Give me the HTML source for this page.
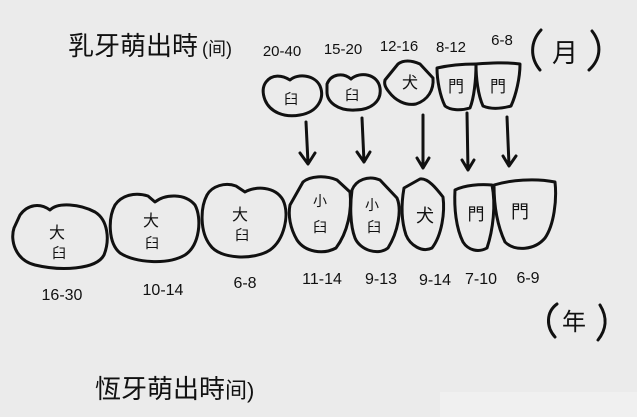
<!DOCTYPE html>
<html><head><meta charset="utf-8"><style>
html,body{margin:0;padding:0;background:#ebebeb;}
svg{display:block;}
text{font-family:"Liberation Sans","Noto Sans CJK TC",sans-serif;fill:#111;}
</style></head><body>
<svg width="637" height="417" viewBox="0 0 637 417">
<rect width="637" height="417" fill="#ebebeb"/>
<rect x="440" y="392" width="197" height="25" fill="#f0f0f0"/>
<g fill="none" stroke="#111" stroke-width="3" stroke-linejoin="round" stroke-linecap="round">
<!-- top teeth -->
<path d="M266,82 C272,74 282,75 290,80 C298,73 315,75 320,86 C325,98 318,112 300,115 C284,118 270,112 265,100 C262,92 263,86 266,82Z"/>
<path d="M327,84 C331,74 343,72 351,79 C360,71 378,74 380,88 C382,102 370,110 355,110 C338,111 327,102 327,92Z"/>
<path d="M385,80 L398,64 C405,59 413,61 420,64 L433,78 C434,90 428,100 416,104 C405,106 395,100 389,92 C385,87 384,84 385,80Z"/>
<path d="M437,68 C450,65 462,64 476,64 C476,80 474,98 470,108 C460,111 450,110 445,106 C440,96 437,80 437,68Z"/>
<path d="M476,64 C490,63 505,62 520,64 C520,78 516,95 511,106 C500,109 490,109 483,106 C478,95 476,78 476,64Z"/>
<!-- arrows -->
<path d="M306,122 L308,163 M300,153 L308,164 L315,153"/>
<path d="M362,118 L364,162 M357,152 L364,162 L370,152"/>
<path d="M423,115 L423,168 M417,158 L423,168 L429,158"/>
<path d="M467,113 L468,170 M462,160 L468,170 L474,160"/>
<path d="M507,117 L509,165 M503,156 L509,166 L516,156"/>
<!-- bottom teeth -->
<path d="M20,215 C28,204 40,203 50,210 C58,202 80,204 95,212 C108,220 110,240 104,255 C96,270 60,271 35,265 C15,260 10,240 14,228 Z"/>
<path d="M115,205 C122,195 135,192 148,196 L155,202 C165,194 185,193 195,205 C202,218 200,245 185,255 C168,265 135,263 120,253 C108,243 108,218 115,205Z"/>
<path d="M207,195 C212,186 225,182 236,186 L245,192 C255,186 275,186 283,200 C290,215 284,240 270,250 C255,260 220,260 210,245 C200,232 200,208 207,195Z"/>
<path d="M290,205 L303,182 C310,176 325,175 337,180 L350,192 C352,210 348,232 336,248 C323,255 305,252 297,240 C290,228 288,215 290,205Z"/>
<path d="M352,190 C356,180 368,175 380,180 L397,198 C402,210 398,232 388,248 C378,256 360,250 355,238 C350,225 350,205 352,190Z"/>
<path d="M404,188 L420,179 C428,178 436,188 443,197 C445,212 442,235 432,248 C422,253 410,245 406,235 C401,220 401,205 404,188Z"/>
<path d="M455,190 C465,185 480,184 492,185 C496,205 493,230 487,248 C478,253 468,250 463,242 C456,228 454,208 455,190Z"/>
<path d="M494,185 C510,180 535,178 555,182 C557,200 554,225 545,238 C535,250 515,252 505,242 C497,225 494,205 494,185Z"/>
<!-- parentheses -->
<path d="M541,30 C530,42 530,58 540,70"/>
<path d="M592,31 C603,45 600,60 589,70"/>
<path d="M557,304 C546,312 546,327 555,337"/>
<path d="M600,305 C608,318 606,330 598,340"/>
</g>
<g font-size="26">
<text x="68" y="55">乳牙萌出時</text><text x="202" y="55" font-size="18">(间)</text>
<text x="95" y="398">恆牙萌出時</text><text x="225" y="398" font-size="22">间)</text>
</g>
<text x="552" y="62" font-size="26">月</text>
<text x="562" y="330" font-size="24">年</text>
<g font-size="15" text-anchor="middle">
<text x="282" y="56">20-40</text><text x="343" y="54">15-20</text><text x="399" y="51">12-16</text><text x="451" y="52">8-12</text><text x="502" y="45">6-8</text>
</g>
<g font-size="16" text-anchor="middle">
<text x="62" y="300">16-30</text><text x="163" y="295">10-14</text><text x="245" y="288">6-8</text><text x="322" y="284">11-14</text><text x="381" y="284">9-13</text><text x="435" y="285">9-14</text><text x="481" y="284">7-10</text><text x="528" y="283">6-9</text>
</g>
<g font-size="14" text-anchor="middle">
<text x="291" y="104">臼</text><text x="352" y="100">臼</text><text x="410" y="88" font-size="16">犬</text><text x="456" y="92" font-size="16">門</text><text x="498" y="92" font-size="16">門</text>
<text x="57" y="238" font-size="16">大</text><text x="59" y="258">臼</text>
<text x="151" y="226" font-size="16">大</text><text x="152" y="248">臼</text>
<text x="240" y="220" font-size="16">大</text><text x="242" y="240">臼</text>
<text x="320" y="206">小</text><text x="320" y="232">臼</text>
<text x="372" y="210">小</text><text x="374" y="232">臼</text>
<text x="425" y="222" font-size="18">犬</text><text x="476" y="220" font-size="17">門</text><text x="520" y="218" font-size="18">門</text>
</g>
</svg>
</body></html>
